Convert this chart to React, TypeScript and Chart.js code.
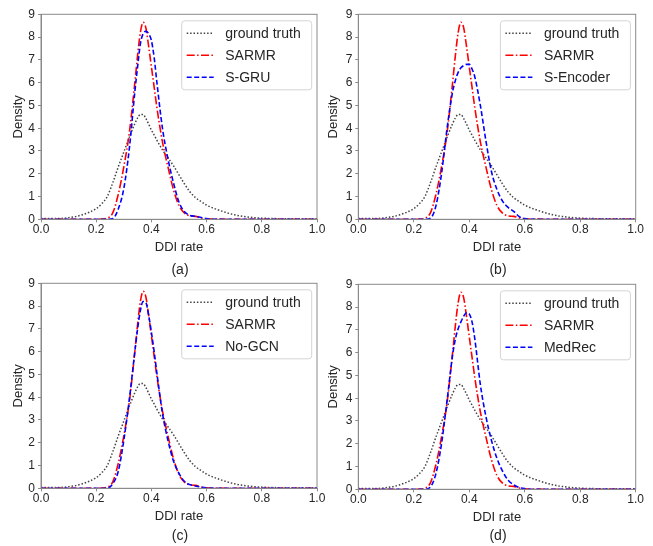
import React, { useEffect, useRef } from "react";
import { Chart, registerables } from "chart.js";

Chart.register(...registerables);

// DDI rate sample positions (x values shared by every curve)
const rates = [
  0, 0.05, 0.1, 0.15, 0.2, 0.22, 0.24, 0.26, 0.28, 0.3, 0.32, 0.34, 0.35, 0.36, 0.37,
  0.38, 0.39, 0.4, 0.41, 0.42, 0.44, 0.46, 0.48, 0.5, 0.52, 0.54, 0.56, 0.58, 0.6, 0.65,
  0.7, 0.75, 0.8, 0.85, 0.9, 0.95, 1.0,
];

const groundTruth = [
  0.03, 0.03, 0.07, 0.2, 0.47, 0.68, 1.0, 1.6, 2.3, 2.95, 3.6, 4.2, 4.45, 4.6, 4.6,
  4.42, 4.18, 3.92, 3.7, 3.47, 3.05, 2.7, 2.35, 1.95, 1.55, 1.2, 0.95, 0.78, 0.62, 0.38,
  0.2, 0.1, 0.05, 0.03, 0.02, 0.02, 0.02,
];

const sarmr = [
  0, 0, 0, 0, 0, 0.01, 0.05, 0.28, 1.1, 2.3, 3.8, 6.0, 7.2, 8.2, 8.65,
  8.4, 7.6, 6.7, 5.8, 4.9, 3.4, 2.3, 1.3, 0.6, 0.27, 0.15, 0.13, 0.06, 0.02, 0.01,
  0, 0, 0, 0, 0, 0, 0,
];

const sGru = [
  0, 0, 0, 0, 0, 0, 0, 0.03, 0.45, 1.35, 3.1, 5.6, 6.7, 7.7, 8.15,
  8.25, 8.15, 7.85, 7.1, 6.0, 4.0, 2.65, 1.6, 0.75, 0.33, 0.17, 0.13, 0.08, 0.03, 0,
  0, 0, 0, 0, 0, 0, 0,
];

const sEncoder = [
  0, 0, 0, 0, 0, 0, 0, 0.05, 0.6, 2.0, 4.0, 5.6, 6.1, 6.45, 6.65,
  6.75, 6.8, 6.8, 6.6, 6.25, 5.0, 3.45, 2.1, 1.3, 0.8, 0.52, 0.35, 0.12, 0.03, 0,
  0, 0, 0, 0, 0, 0, 0,
];

const noGcn = [
  0, 0, 0, 0, 0, 0, 0, 0.2, 0.75, 2.1, 3.9, 6.0, 7.0, 7.8, 8.2,
  8.15, 7.6, 6.85, 6.0, 5.05, 3.3, 2.1, 1.2, 0.65, 0.3, 0.16, 0.1, 0.05, 0.02, 0,
  0, 0, 0, 0, 0, 0, 0,
];

const medRec = [
  0, 0, 0, 0, 0, 0, 0, 0.1, 0.7, 2.0, 3.9, 5.9, 6.6, 7.05, 7.35,
  7.6, 7.75, 7.7, 7.35, 6.6, 4.6, 3.2, 2.15, 1.35, 0.8, 0.4, 0.2, 0.08, 0.03, 0,
  0, 0, 0, 0, 0, 0, 0,
];

const xTicks = [0, 0.2, 0.4, 0.6, 0.8, 1.0];
const yMax = 9;

const FONT = "'Liberation Sans', Arial, Helvetica, sans-serif";
const TEXT = "#262626";
const AXIS = "#8a8a8a";
const X_AXIS_H = 40;

type PanelCfg = {
  name: string;
  model: string;
  values: number[];
  left: number;
  top: number;
  w: number;
  h: number;
  area: { l: number; t: number; r: number; b: number };
  yTitlePad: number;
  caption: { x: number; y: number };
};

const panels: PanelCfg[] = [
  {
    name: "(a)", model: "S-GRU", values: sGru,
    left: 0, top: 0, w: 326, h: 272,
    area: { l: 41, t: 14.3, r: 317, b: 219.3 }, yTitlePad: 10.5,
    caption: { x: 180, y: 269 },
  },
  {
    name: "(b)", model: "S-Encoder", values: sEncoder,
    left: 318, top: 0, w: 335, h: 272,
    area: { l: 40.3, t: 14.3, r: 317.7, b: 219.3 }, yTitlePad: 7.5,
    caption: { x: 498, y: 269 },
  },
  {
    name: "(c)", model: "No-GCN", values: noGcn,
    left: 0, top: 272, w: 326, h: 274,
    area: { l: 41, t: 11.3, r: 317, b: 216.3 }, yTitlePad: 10.5,
    caption: { x: 180, y: 535 },
  },
  {
    name: "(d)", model: "MedRec", values: medRec,
    left: 318, top: 272, w: 335, h: 274,
    area: { l: 40.3, t: 12.3, r: 317.7, b: 217.3 }, yTitlePad: 7.5,
    caption: { x: 498, y: 535 },
  },
];

const framePlugin = {
  id: "frameBox",
  afterDatasetsDraw(chart: any) {
    const { ctx, chartArea } = chart;
    ctx.save();
    ctx.strokeStyle = AXIS;
    ctx.lineWidth = 1;
    ctx.strokeRect(chartArea.left, chartArea.top, chartArea.right - chartArea.left, chartArea.bottom - chartArea.top);
    ctx.restore();
  },
};

const legendPlugin = {
  id: "boxLegend",
  afterDraw(chart: any) {
    const { ctx, chartArea } = chart;
    const ds = chart.data.datasets;
    ctx.save();
    ctx.font = `14px ${FONT}`;
    const textW = Math.max(...ds.map((d: any) => ctx.measureText(d.label).width));
    const padL = 5, handle = 27, gap = 11.5, padR = 11;
    const w = padL + handle + gap + textW + padR;
    const h = 69;
    const x0 = chartArea.right - 5.3 - w;
    const y0 = chartArea.top + 6.5;
    ctx.beginPath();
    if (ctx.roundRect) ctx.roundRect(x0, y0, w, h, 3);
    else ctx.rect(x0, y0, w, h);
    ctx.fillStyle = "rgba(255,255,255,0.85)";
    ctx.fill();
    ctx.strokeStyle = "#d4d4d4";
    ctx.lineWidth = 1;
    ctx.stroke();
    ds.forEach((d: any, i: number) => {
      const cy = y0 + 12.5 + i * 22;
      ctx.beginPath();
      ctx.setLineDash(d.borderDash || []);
      ctx.strokeStyle = d.borderColor;
      ctx.lineWidth = d.borderWidth;
      ctx.moveTo(x0 + padL, cy);
      ctx.lineTo(x0 + padL + handle, cy);
      ctx.stroke();
      ctx.setLineDash([]);
      ctx.fillStyle = TEXT;
      ctx.textBaseline = "middle";
      ctx.textAlign = "left";
      ctx.fillText(d.label, x0 + padL + handle + gap, cy + 0.5);
    });
    ctx.restore();
  },
};

function toPoints(values: number[]) {
  return rates.map((x, i) => ({ x, y: values[i] }));
}

function Panel({ cfg }: { cfg: PanelCfg }) {
  const ref = useRef<HTMLCanvasElement>(null);
  useEffect(() => {
    const canvas = ref.current;
    if (!canvas) return;
    const { area, w, h } = cfg;
    const chart = new Chart(canvas, {
      type: "line",
      data: {
        datasets: [
          {
            label: "ground truth",
            data: toPoints(groundTruth),
            borderColor: "#444444",
            borderWidth: 1.5,
            borderDash: [1.5, 1.9],
            pointRadius: 0,
            cubicInterpolationMode: "monotone",
            order: 2,
          },
          {
            label: "SARMR",
            data: toPoints(sarmr),
            borderColor: "#ff0000",
            borderWidth: 1.6,
            borderDash: [8, 2.4, 1.5, 2.4],
            pointRadius: 0,
            cubicInterpolationMode: "monotone",
            order: 1,
          },
          {
            label: cfg.model,
            data: toPoints(cfg.values),
            borderColor: "#0000ff",
            borderWidth: 1.6,
            borderDash: [5, 2.5],
            pointRadius: 0,
            cubicInterpolationMode: "monotone",
            order: 0,
          },
        ] as any,
      },
      options: {
        animation: false,
        responsive: false,
        maintainAspectRatio: false,
        events: [],
        layout: {
          padding: { left: 0, top: area.t, right: w - area.r, bottom: h - area.b - X_AXIS_H },
        },
        plugins: {
          legend: { display: false },
          tooltip: { enabled: false },
        },
        scales: {
          x: {
            type: "linear",
            min: 0,
            max: 1,
            afterFit: (s: any) => { s.height = X_AXIS_H; },
            afterBuildTicks: (s: any) => { s.ticks = xTicks.map((v) => ({ value: v })); },
            ticks: {
              callback: (v: any) => Number(v).toFixed(1),
              color: TEXT,
              font: { family: FONT, size: 12 },
              padding: 0,
              maxRotation: 0,
              autoSkip: false,
            },
            grid: { drawOnChartArea: false, drawTicks: true, tickLength: 3, color: AXIS },
            border: { display: true, color: AXIS },
            title: {
              display: true,
              text: "DDI rate",
              color: TEXT,
              font: { family: FONT, size: 13 },
              padding: { top: 4, bottom: 4 },
            },
          },
          y: {
            type: "linear",
            min: 0,
            max: yMax,
            afterFit: (s: any) => { s.width = area.l; },
            ticks: {
              stepSize: 1,
              color: TEXT,
              font: { family: FONT, size: 12 },
              padding: 3,
            },
            grid: { drawOnChartArea: false, drawTicks: true, tickLength: 3, color: AXIS },
            border: { display: true, color: AXIS },
            title: {
              display: true,
              text: "Density",
              color: TEXT,
              font: { family: FONT, size: 13 },
              padding: { top: cfg.yTitlePad, bottom: 0 },
            },
          },
        },
      } as any,
      plugins: [framePlugin, legendPlugin],
    });
    return () => chart.destroy();
  }, [cfg]);
  return (
    <canvas
      ref={ref}
      width={cfg.w}
      height={cfg.h}
      style={{ position: "absolute", left: cfg.left, top: cfg.top, width: cfg.w, height: cfg.h }}
    />
  );
}

export default function App() {
  return (
    <div
      style={{
        position: "fixed",
        left: 0,
        top: 0,
        width: 653,
        height: 546,
        background: "#ffffff",
        overflow: "hidden",
        fontFamily: FONT,
      }}
    >
      {panels.map((p) => (
        <Panel key={p.name} cfg={p} />
      ))}
      {panels.map((p) => (
        <div
          key={p.name + "-cap"}
          style={{
            position: "absolute",
            left: p.caption.x,
            top: p.caption.y,
            transform: "translate(-50%, -50%)",
            fontSize: 14,
            color: TEXT,
            lineHeight: "16px",
            whiteSpace: "nowrap",
          }}
        >
          {p.name}
        </div>
      ))}
    </div>
  );
}
